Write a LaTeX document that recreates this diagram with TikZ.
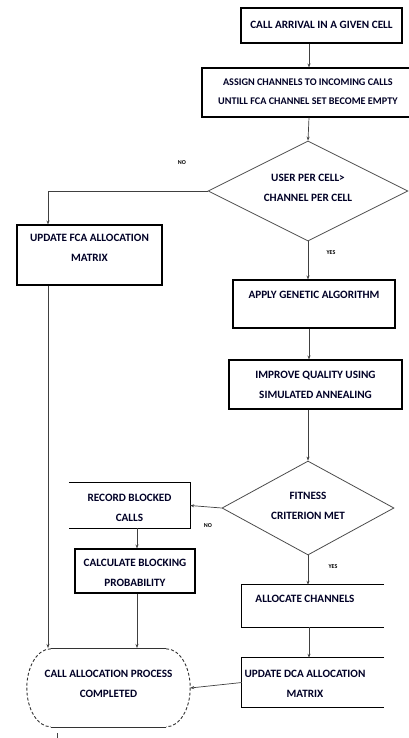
\documentclass[tikz,border=0pt]{standalone}
\usepackage{fontspec}
\setmainfont{Carlito}[BoldFont={* Bold}]
\usetikzlibrary{shapes.geometric,arrows.meta}
\begin{document}
\begin{tikzpicture}[x=1pt,y=-1pt,
  box/.style={draw=black,line width=1.1pt,rectangle,inner sep=0pt},
  txt/.style={font=\bfseries\fontsize{11.2}{20}\selectfont,align=center,inner sep=0pt,text=black!85!blue},
  lbl/.style={font=\bfseries\fontsize{6}{6}\selectfont,inner sep=0pt},
  dia/.style={draw=black!70,line width=0.8pt,diamond,inner sep=0pt},
  flow/.style={draw=black!75,line width=0.7pt,-{Stealth[length=4pt,width=3pt]}},
  plain/.style={draw=black!75,line width=0.7pt}]
\useasboundingbox (0,0) rectangle (409,738);
\fill[white] (0,0) rectangle (409,738);
% boxes
\node[box,minimum width=161pt,minimum height=35pt] (b1) at (321.5,25.5) {};
\node[txt] (t1) at (321.5,25) {CALL ARRIVAL IN A GIVEN CELL};
\node[box,minimum width=210pt,minimum height=49pt] (b2) at (307,92.5) {};
\node[txt,anchor=west,font=\bfseries\fontsize{10.2}{18.5}\selectfont] (t2) at (218,91.5) {ASSIGN CHANNELS TO INCOMING CALLS\\UNTILL FCA CHANNEL SET BECOME EMPTY};
\node[dia,minimum width=200pt,minimum height=100pt] (d1) at (308,191) {};
\node[txt] (t3) at (308,188) {USER PER CELL>\\CHANNEL PER CELL};
\node[box,minimum width=145pt,minimum height=60pt] (b3) at (89.5,255) {};
\node[txt] (t4) at (89.5,248) {UPDATE FCA ALLOCATION\\MATRIX};
\node[box,minimum width=162pt,minimum height=48pt] (b4) at (314,304) {};
\node[txt] (t5) at (314,295) {APPLY GENETIC ALGORITHM};
\node[box,minimum width=173pt,minimum height=49pt] (b5) at (315.5,384.5) {};
\node[txt] (t6) at (315.5,384.5) {IMPROVE QUALITY USING\\SIMULATED ANNEALING};
\node[dia,minimum width=172pt,minimum height=94pt] (d2) at (308,508) {};
\node[txt] (t7) at (308,505.5) {FITNESS\\CRITERION MET};
% record blocked calls (open on the left)
\node[inner sep=0pt,minimum width=121pt,minimum height=45pt] (b6) at (129.5,505.5) {};
\draw[black,line width=1.1pt] (b6.north west) -- (b6.north east) -- (b6.south east) -- (b6.south west);
\node[txt] (t8) at (129.5,508) {RECORD BLOCKED\\CALLS};
\node[box,minimum width=120pt,minimum height=44pt] (b7) at (135,571) {};
\node[txt] (t9) at (135,573) {CALCULATE BLOCKING\\PROBABILITY};
% allocate channels (open on the right)
\node[inner sep=0pt,minimum width=142pt,minimum height=42pt] (b8) at (313,606) {};
\draw[black,line width=1.1pt] (b8.north east) -- (b8.north west) -- (b8.south west) -- (b8.south east);
\node[txt] (t10) at (305,599) {ALLOCATE CHANNELS};
\node[inner sep=0pt,minimum width=142pt,minimum height=49pt] (b9) at (313,682.5) {};
\draw[black,line width=1.1pt] (b9.north east) -- (b9.north west) -- (b9.south west) -- (b9.south east);
\node[txt] (t11) at (305,683.5) {UPDATE DCA ALLOCATION\\MATRIX};
% terminal
\node[inner sep=0pt,minimum width=163pt,minimum height=78pt] (term) at (108.5,688) {};
\draw[black!80,line width=0.9pt] ([xshift=24pt]term.north west) -- ([xshift=-24pt]term.north east);
\draw[black!80,line width=0.9pt] ([xshift=24pt]term.south west) -- ([xshift=-24pt]term.south east);
\draw[black!80,line width=0.9pt,densely dashed] ([xshift=24pt]term.north west) arc[start angle=90,end angle=270,x radius=24pt,y radius=39pt];
\draw[black!80,line width=0.9pt,densely dashed] ([xshift=-24pt]term.north east) arc[start angle=90,end angle=-90,x radius=24pt,y radius=39pt];
\node[txt] (t12) at (108.5,683.5) {CALL ALLOCATION PROCESS\\COMPLETED};
% labels
\node[lbl] (no1) at (182,163) {NO};
\node[lbl] (yes1) at (331,253) {YES};
\node[lbl] (no2) at (208,526) {NO};
\node[lbl] (yes2) at (333,567) {YES};
% connectors
\draw[flow] (b1.south -| 309,0) -- (b2.north -| 309,0);
\draw[flow] (b2.south -| 309,0) -- (d1.north);
\draw[flow] (d1.west) -| (b3.north -| 48,0);
\draw[flow] (d1.south) -- (b4.north -| 308,0);
\draw[flow] (b4.south -| 309,0) -- (b5.north -| 309,0);
\draw[flow] (b5.south -| 308,0) -- (d2.north);
\draw[flow] (d2.west) -- (b6.east);
\draw[flow] (b6.south -| 137,0) -- (b7.north -| 137,0);
\draw[flow] (d2.south) -- (b8.north -| 308,0);
\draw[flow] (b8.south -| 309,0) -- (b9.north -| 309,0);
\draw[flow] (b9.west) -- (term.east);
\coordinate (tt1) at (48,648);
\coordinate (tt2) at (137,648);
\draw[flow] (b3.south -| 48,0) -- (tt1);
\draw[flow] (b7.south -| 137,0) -- (tt2);
\coordinate (tk1) at (57,733);
\coordinate (tk2) at (57,738);
\draw[plain] (tk1) -- (tk2);
\end{tikzpicture}
\end{document}
